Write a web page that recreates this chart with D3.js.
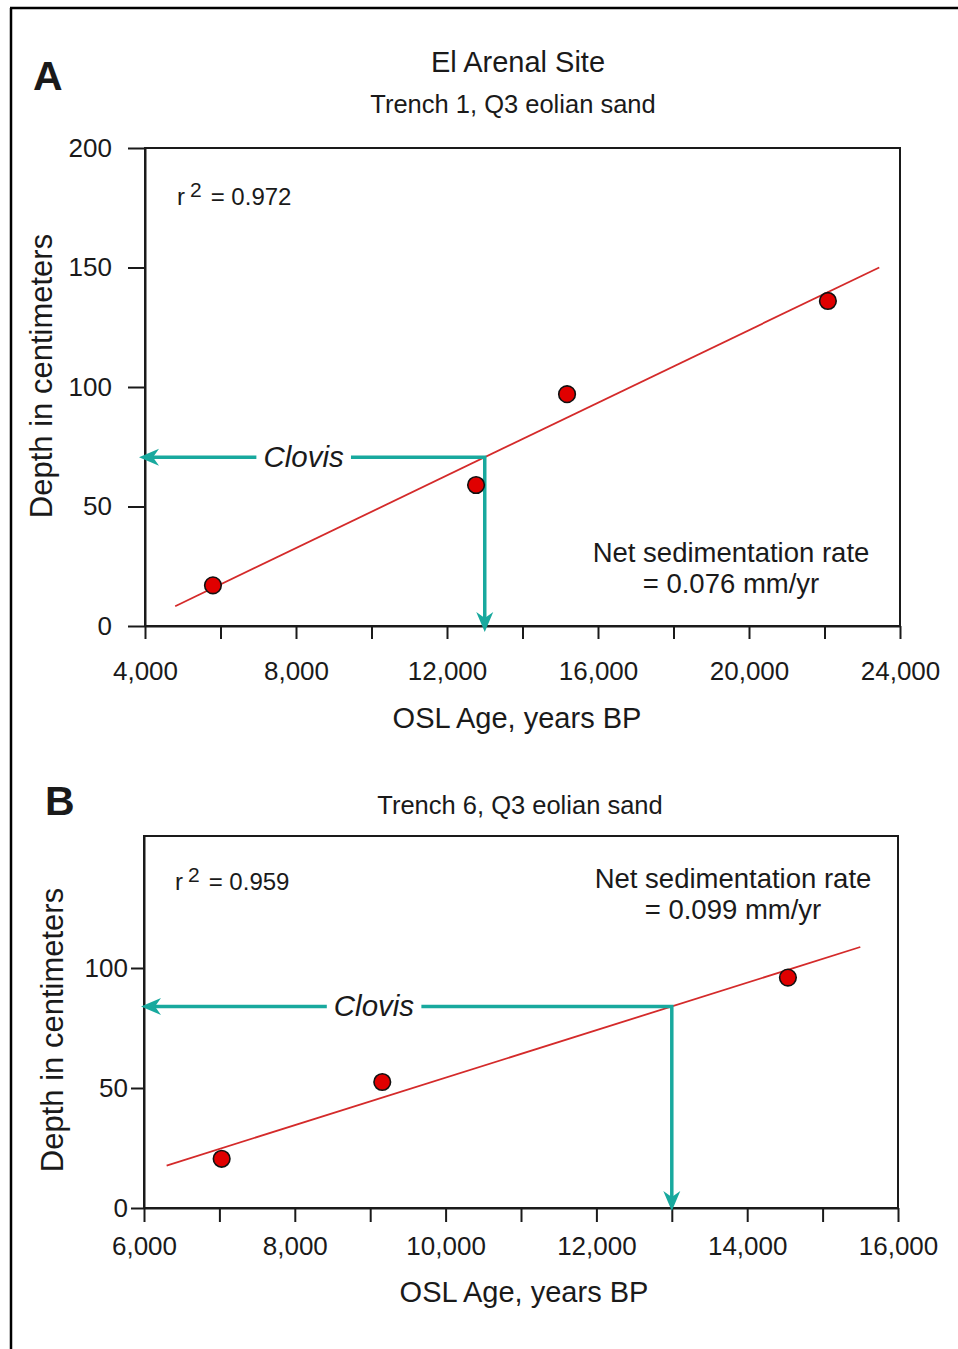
<!DOCTYPE html>
<html>
<head>
<meta charset="utf-8">
<script src="https://cdn.jsdelivr.net/npm/d3@7"></script>
<style>
  body { margin: 0; background: #fff; }
  svg { display: block; }
  text { font-family: "Liberation Sans", Arial, Helvetica, sans-serif; fill: #1a1a1a; }
</style>
</head>
<body>
<svg id="fig" width="958" height="1349"></svg>
<script>
// ---- Trench 1 (panel A) ----
const ageA = [5800, 12770, 15180, 22090];      // OSL age, years BP
const depthA = [17, 59, 97, 136];              // depth, cm
const rateA = 0.076;                           // net sedimentation rate, mm/yr
const r2A = "0.972";
const fitRangeA = [4800, 23450];               // ages spanned by the regression line
const clovisDepthA = 70.6;                     // fitted depth at the Clovis age, cm
const xTicksA = [4000, 6000, 8000, 10000, 12000, 14000, 16000, 18000, 20000, 22000, 24000];
const xLabelsA = [4000, 8000, 12000, 16000, 20000, 24000];
const yTicksA = [0, 50, 100, 150, 200];

// ---- Trench 6 (panel B) ----
const ageB = [7030, 9160, 14540];
const depthB = [20.5, 52.5, 96];
const rateB = 0.099;
const r2B = "0.959";
const fitRangeB = [6300, 15500];
const clovisDepthB = 84;
const xTicksB = [6000, 7000, 8000, 9000, 10000, 11000, 12000, 13000, 14000, 15000, 16000];
const xLabelsB = [6000, 8000, 10000, 12000, 14000, 16000];
const yTicksB = [0, 50, 100];

const clovisAge = 13000;

const RED_LINE = "#d42a2a";
const RED_DOT = "#e00000";
const TEAL = "#18a99e";
const INK = "#1a1a1a";
const fmt = d3.format(",");

const svg = d3.select("#fig");

// page frame (top and left rules)
svg.append("path")
  .attr("d", "M10,8 H958 M11,8 V1349")
  .attr("fill", "none").attr("stroke", "#000").attr("stroke-width", 2.5);

function drawPanel(p) {
  const g = svg.append("g");
  const x = d3.scaleLinear().domain(p.xDomain).range([p.left, p.right]);
  const y = d3.scaleLinear().domain(p.yDomain).range([p.bottom, p.top]);

  // frame of the plot area
  g.append("rect")
    .attr("x", p.left).attr("y", p.top)
    .attr("width", p.right - p.left).attr("height", p.bottom - p.top)
    .attr("fill", "none").attr("stroke", INK).attr("stroke-width", 2);

  // axes
  const xAxis = d3.axisBottom(x)
    .tickValues(p.xTicks)
    .tickSize(p.xTickSize).tickSizeOuter(0).tickPadding(p.xTickPad)
    .tickFormat(d => p.xLabels.includes(d) ? fmt(d) : "");
  const gx = g.append("g").attr("transform", `translate(0,${p.bottom})`).call(xAxis);

  const yAxis = d3.axisLeft(y)
    .tickValues(p.yTicks)
    .tickSize(p.yTickSize).tickSizeOuter(0).tickPadding(p.yTickPad)
    .tickFormat(d3.format("d"));
  const gy = g.append("g").attr("transform", `translate(${p.left},0)`).call(yAxis);

  [gx, gy].forEach(a => {
    a.select(".domain").attr("stroke", INK).attr("stroke-width", 2);
    a.selectAll(".tick line").attr("stroke", INK).attr("stroke-width", 2);
    a.selectAll(".tick text")
      .attr("font-size", 26).attr("fill", INK)
      .style("font-family", '"Liberation Sans", Arial, sans-serif');
  });

  // axis titles
  g.append("text")
    .attr("x", p.xTitleX).attr("y", p.xTitleY)
    .attr("text-anchor", "middle").attr("font-size", 29)
    .text("OSL Age, years BP");
  g.append("text")
    .attr("transform", `translate(${p.yTitleX},${p.yTitleY}) rotate(-90)`)
    .attr("text-anchor", "middle").attr("font-size", 31)
    .text("Depth in centimeters");

  // regression line, drawn from the stated sedimentation rate (mm/yr -> cm/yr)
  const slope = p.rate / 10;
  const fitted = a => p.clovisDepth + slope * (a - clovisAge);
  g.append("line")
    .attr("x1", x(p.fitRange[0])).attr("y1", y(fitted(p.fitRange[0])))
    .attr("x2", x(p.fitRange[1])).attr("y2", y(fitted(p.fitRange[1])))
    .attr("stroke", RED_LINE).attr("stroke-width", 1.8);

  // Clovis arrows
  const cx = x(clovisAge), cy = y(p.clovisDepth);
  const tipX = p.left - p.tipOut, tipY = p.bottom + p.tipOut;
  g.append("path")
    .attr("d", `M${tipX + 12},${cy} H${cx} V${tipY - 12}`)
    .attr("fill", "none").attr("stroke", TEAL).attr("stroke-width", 3.5);
  const head = (tx, ty, angle) => g.append("path")
    .attr("d", "M0,0 L-20,-8.5 L-14,0 L-20,8.5 Z")
    .attr("transform", `translate(${tx},${ty}) rotate(${angle})`)
    .attr("fill", TEAL);
  head(tipX, cy, 180);
  head(cx, tipY, 90);

  const clovis = g.append("text")
    .attr("x", x(p.clovisLabelAge)).attr("y", cy + 10)
    .attr("text-anchor", "middle").attr("font-size", 29.5)
    .attr("font-style", "italic")
    .text("Clovis");
  const bb = clovis.node().getBBox();
  g.insert("rect", () => clovis.node())
    .attr("x", bb.x - 7).attr("y", cy - 4)
    .attr("width", bb.width + 14).attr("height", 8)
    .attr("fill", "#fff");

  // samples
  g.selectAll("circle.sample")
    .data(p.ages.map((a, i) => ({ a, d: p.depths[i] })))
    .join("circle")
    .attr("class", "sample")
    .attr("cx", d => x(d.a)).attr("cy", d => y(d.d))
    .attr("r", 8.3)
    .attr("fill", RED_DOT).attr("stroke", "#111").attr("stroke-width", 1.6);

  // r squared
  const r2 = g.append("text")
    .attr("x", p.r2X).attr("y", p.r2Y)
    .attr("font-size", 24);
  r2.append("tspan").text("r");
  r2.append("tspan").attr("dx", 5).attr("dy", -8).attr("font-size", 21).text("2");
  r2.append("tspan").attr("dx", 9).attr("dy", 8).text("= " + p.r2);

  // sedimentation rate note
  g.append("text")
    .attr("x", p.rateX).attr("y", p.rateY)
    .attr("text-anchor", "middle").attr("font-size", 27.5)
    .text("Net sedimentation rate");
  g.append("text")
    .attr("x", p.rateX).attr("y", p.rateY + 31)
    .attr("text-anchor", "middle").attr("font-size", 27.5)
    .text(`= ${p.rate.toFixed(3)} mm/yr`);

  // panel letter and subtitle
  g.append("text")
    .attr("x", p.letterX).attr("y", p.letterY)
    .attr("font-size", 41).attr("font-weight", "bold").attr("fill", "#000")
    .text(p.letter);
  g.append("text")
    .attr("x", p.subX).attr("y", p.subY)
    .attr("text-anchor", "middle").attr("font-size", 25.5)
    .text(p.subtitle);
}

// figure title
svg.append("text")
  .attr("x", 518).attr("y", 72)
  .attr("text-anchor", "middle").attr("font-size", 29)
  .text("El Arenal Site");

drawPanel({
  letter: "A", letterX: 33, letterY: 90,
  subtitle: "Trench 1, Q3 eolian sand", subX: 513, subY: 113,
  left: 145, right: 900, top: 148, bottom: 626,
  xDomain: [4000, 24000], yDomain: [0, 200],
  xTicks: xTicksA, xLabels: xLabelsA, yTicks: yTicksA,
  xTickSize: 13, xTickPad: 23, yTickSize: 17, yTickPad: 16,
  xTitleX: 517, xTitleY: 728, yTitleX: 52, yTitleY: 376,
  ages: ageA, depths: depthA, rate: rateA, r2: r2A,
  fitRange: fitRangeA, clovisDepth: clovisDepthA, clovisLabelAge: 8200, tipOut: 6,
  r2X: 177, r2Y: 205, rateX: 731, rateY: 562
});

drawPanel({
  letter: "B", letterX: 45, letterY: 815,
  subtitle: "Trench 6, Q3 eolian sand", subX: 520, subY: 814,
  left: 144, right: 898, top: 836, bottom: 1208,
  xDomain: [6000, 16000], yDomain: [0, 155],
  xTicks: xTicksB, xLabels: xLabelsB, yTicks: yTicksB,
  xTickSize: 14, xTickPad: 15, yTickSize: 13, yTickPad: 3,
  xTitleX: 524, xTitleY: 1302, yTitleX: 63, yTitleY: 1030,
  ages: ageB, depths: depthB, rate: rateB, r2: r2B,
  fitRange: fitRangeB, clovisDepth: clovisDepthB, clovisLabelAge: 9050, tipOut: 3,
  r2X: 175, r2Y: 890, rateX: 733, rateY: 888
});
</script>
</body>
</html>
